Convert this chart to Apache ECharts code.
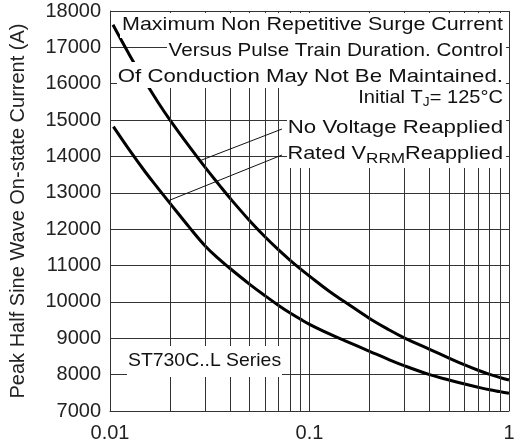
<!DOCTYPE html>
<html><head><meta charset="utf-8">
<script src="https://cdn.jsdelivr.net/npm/echarts@6/dist/echarts.min.js"></script>
<style>html,body{margin:0;padding:0;background:#fff}#c{width:521px;height:448px}</style>
</head><body><div id="c"></div>
<script>
// Pulse train duration (s) vs peak half sine wave on-state current (A)
var noVoltage = [[0.01035,17620],[0.0125,16800],[0.015,16060],[0.0175,15470],[0.02,15000],[0.025,14270],[0.03,13700],[0.035,13240],[0.04,12850],[0.05,12240],[0.06,11785],[0.07,11430],[0.08,11145],[0.09,10910],[0.1,10710],[0.125,10300],[0.15,10005],[0.2,9545],[0.25,9235],[0.3,9005],[0.4,8695],[0.5,8457],[0.6,8267],[0.7,8120],[0.8,8007],[0.9,7923],[1,7852]];
var ratedVrrm = [[0.0104,14820],[0.0125,14180],[0.015,13580],[0.0175,13110],[0.02,12710],[0.025,12050],[0.03,11540],[0.035,11190],[0.04,10918],[0.05,10490],[0.06,10165],[0.07,9904],[0.08,9695],[0.09,9526],[0.1,9384],[0.125,9127],[0.15,8935],[0.2,8642],[0.25,8414],[0.3,8240],[0.4,8000],[0.5,7853],[0.6,7741],[0.7,7654],[0.8,7584],[0.9,7533],[1,7487]];
var minorX = [0.02,0.03,0.04,0.05,0.06,0.07,0.08,0.09,0.2,0.3,0.4,0.5,0.6,0.7,0.8,0.9];
var yTicks = {min:7000, max:18000, interval:1000};
var xTicks = {min:0.01, max:1};
var yName = 'Peak Half Sine Wave On-state Current (A)';

var FONT = 'Liberation Sans, Arial, sans-serif';
var chart = echarts.init(document.getElementById('c'));
var option = {
  animation:false,
  grid:{left:110, right:12, top:11, bottom:37, show:false},
  xAxis:{type:'log', logBase:10, min:xTicks.min, max:xTicks.max,
    axisLine:{show:true, lineStyle:{color:'#333', width:1}},
    axisTick:{show:false},
    axisLabel:{color:'#222', fontSize:20, fontFamily:FONT, margin:12,
      formatter:function(v){return String(+(+v).toPrecision(3));}},
    splitLine:{show:true, lineStyle:{color:'#333', width:1}}
  },
  yAxis:{type:'value', min:yTicks.min, max:yTicks.max, interval:yTicks.interval,
    name:yName, nameLocation:'middle', nameGap:82,
    nameTextStyle:{color:'#222', fontSize:20, fontFamily:FONT},
    axisLine:{show:true, lineStyle:{color:'#333', width:1}},
    axisTick:{show:false},
    axisLabel:{color:'#222', fontSize:20, fontFamily:FONT, margin:9,
      formatter:function(v){return String(v);}},
    splitLine:{show:true, lineStyle:{color:'#333', width:1}}
  },
  series:[
    {type:'line', data:[], silent:true,
     markLine:{silent:true, symbol:['none','none'], label:{show:false},
       lineStyle:{color:'#333', width:1, type:'solid'},
       data:minorX.map(function(v){return {xAxis:v};})}},
    {name:'No Voltage Reapplied', type:'line', data:noVoltage, smooth:0.4, showSymbol:false,
     lineStyle:{color:'#000', width:3, join:'round'}, z:3},
    {name:'Rated VRRM Reapplied', type:'line', data:ratedVrrm, smooth:0.4, showSymbol:false,
     lineStyle:{color:'#000', width:3, join:'round'}, z:3}
  ]
};
chart.setOption(option);

var p1 = chart.convertToPixel({gridIndex:0},[0.0283,13885]);
var p2 = chart.convertToPixel({gridIndex:0},[0.0195,12777]);
function txt(x,y,s,align,sx,extra){
  var st = {text:s, x:0, y:0, align:align||'right', verticalAlign:'middle', fill:'#111', font:'19px '+FONT};
  if(extra){for(var k in extra) st[k]=extra[k];}
  return {type:'text', z:110, x:x, y:y, scaleX:sx||1, style:st};
}
function rect(x,y,w,h){return {type:'rect', z:100, shape:{x:x,y:y,width:w,height:h}, style:{fill:'#fff'}};}
var RA = {font:'19px '+FONT, fill:'#111'};
chart.setOption({graphic:[
  rect(120,13,386,25), rect(167,37,339,25), rect(117,62,389,26),
  rect(287,88,219,80), rect(127,346,155,31),
  txt(503,25,'Maximum Non Repetitive Surge Current','right',1.131),
  txt(503,51,'Versus Pulse Train Duration. Control','right',1.087),
  txt(503,77,'Of Conduction May Not Be Maintained.','right',1.169),
  txt(503,98,'{a|Initial T}{s|J}{a|= 125°C}','right',1.056,{rich:{a:RA, s:{font:'13px '+FONT, fill:'#111', padding:[8,0,0,0]}}}),
  txt(503,128,'No Voltage Reapplied','right',1.171),
  txt(503,154,'{a|Rated V}{s|RRM}{a|Reapplied}','right',1.144,{rich:{a:RA, s:{font:'15px '+FONT, fill:'#111', padding:[10,0,0,0]}}}),
  txt(128,361,'ST730C..L Series','left',1.021),
  {type:'line', z:105, shape:{x1:282,y1:129,x2:p1[0],y2:p1[1]}, style:{stroke:'#111', lineWidth:1}},
  {type:'line', z:105, shape:{x1:282,y1:155,x2:p2[0],y2:p2[1]}, style:{stroke:'#111', lineWidth:1}}
]});
</script></body></html>
